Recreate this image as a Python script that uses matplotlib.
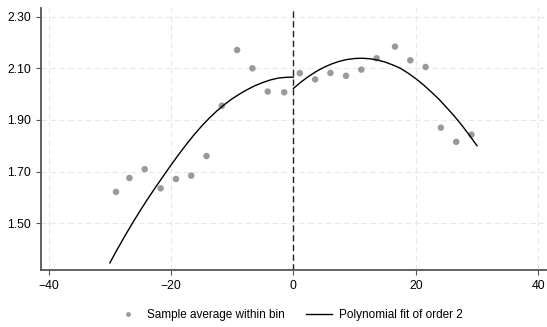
import matplotlib
matplotlib.use("Agg")
import matplotlib.pyplot as plt
from matplotlib.lines import Line2D

# binned sample averages
bin_x = [-29.0, -26.8, -24.3, -21.7, -19.2, -16.7, -14.2, -11.7, -9.2, -6.7, -4.2, -1.5,
         1.05, 3.55, 6.05, 8.6, 11.1, 13.6, 16.6, 19.1, 21.6, 24.1, 26.6, 29.1]
bin_y = [1.621, 1.675, 1.709, 1.635, 1.671, 1.684, 1.760, 1.955, 2.171, 2.100, 2.010, 2.007,
         2.081, 2.057, 2.082, 2.071, 2.095, 2.139, 2.184, 2.131, 2.105, 1.870, 1.815, 1.843]

# fitted curves on each side of the cutoff
fit_left_x = [-30, -28.75, -27.5, -26.25, -25, -23.75, -22.5, -21.25, -20, -18.75, -17.5, -16.25,
              -15, -13.75, -12.5, -11.25, -10, -8.75, -7.5, -6.25, -5, -3.75, -2.5, -1.25, 0]
fit_left_y = [1.346, 1.400, 1.452, 1.502, 1.550, 1.596, 1.640, 1.683, 1.725, 1.766, 1.805, 1.842,
              1.876, 1.907, 1.935, 1.960, 1.982, 2.001, 2.018, 2.033, 2.045, 2.055, 2.062, 2.065, 2.066]
fit_right_x = [0, 1.25, 2.5, 3.75, 5, 6.25, 7.5, 8.75, 10, 11.25, 12.5, 13.75, 15,
               16.25, 17.5, 18.75, 20, 21.25, 22.5, 23.75, 25, 26.25, 27.5, 28.75, 30]
fit_right_y = [2.022, 2.047, 2.069, 2.088, 2.104, 2.117, 2.127, 2.134, 2.138, 2.139, 2.137, 2.132, 2.124,
               2.113, 2.100, 2.081, 2.060, 2.036, 2.009, 1.981, 1.949, 1.916, 1.880, 1.841, 1.800]

x_ticks = [-40, -20, 0, 20, 40]
y_ticks = [1.50, 1.70, 1.90, 2.10, 2.30]

plt.rcParams['font.family'] = ['Liberation Sans', 'DejaVu Sans']

fig = plt.figure(figsize=(5.47, 3.27), dpi=100)
ax = fig.add_axes([0.0744, 0.174, 0.924, 0.801])

ax.scatter(bin_x, bin_y, s=22, color='#9a9a9a', edgecolors='none', zorder=3)
ax.plot(fit_left_x, fit_left_y, color='black', lw=1.0, zorder=4)
ax.plot(fit_right_x, fit_right_y, color='black', lw=1.0, zorder=4)
ax.axvline(0, color='#222222', lw=1.0, ls=(0, (4.5, 2.5)), zorder=2)

ax.set_xlim(-41.3, 41.3)
ax.set_ylim(1.318, 2.333)
ax.set_xticks(x_ticks)
ax.set_yticks(y_ticks)
ax.set_yticklabels([f"{v:.2f}" for v in y_ticks])
ax.grid(True, color='#e8e8e8', ls=(0, (5, 3)), lw=0.8)
ax.set_axisbelow(True)

for side in ['top', 'right']:
    ax.spines[side].set_visible(False)
for side in ['left', 'bottom']:
    ax.spines[side].set_color('#555555')
    ax.spines[side].set_linewidth(1.3)
ax.tick_params(axis='both', colors='#555555', labelcolor='black', labelsize=8.7, length=3.5, width=0.8)

handles = [
    Line2D([], [], marker='o', ls='none', color='#9a9a9a', markersize=3.5, markeredgewidth=0),
    Line2D([], [], color='black', lw=1.0),
]
fig.legend(handles, ['Sample average within bin', 'Polynomial fit of order 2'],
           loc='center', bbox_to_anchor=(0.528, 0.037), ncol=2, frameon=False,
           fontsize=8.5, handlelength=2.15, columnspacing=1.8, handletextpad=0.6)

fig.savefig('out.png', dpi=100)
